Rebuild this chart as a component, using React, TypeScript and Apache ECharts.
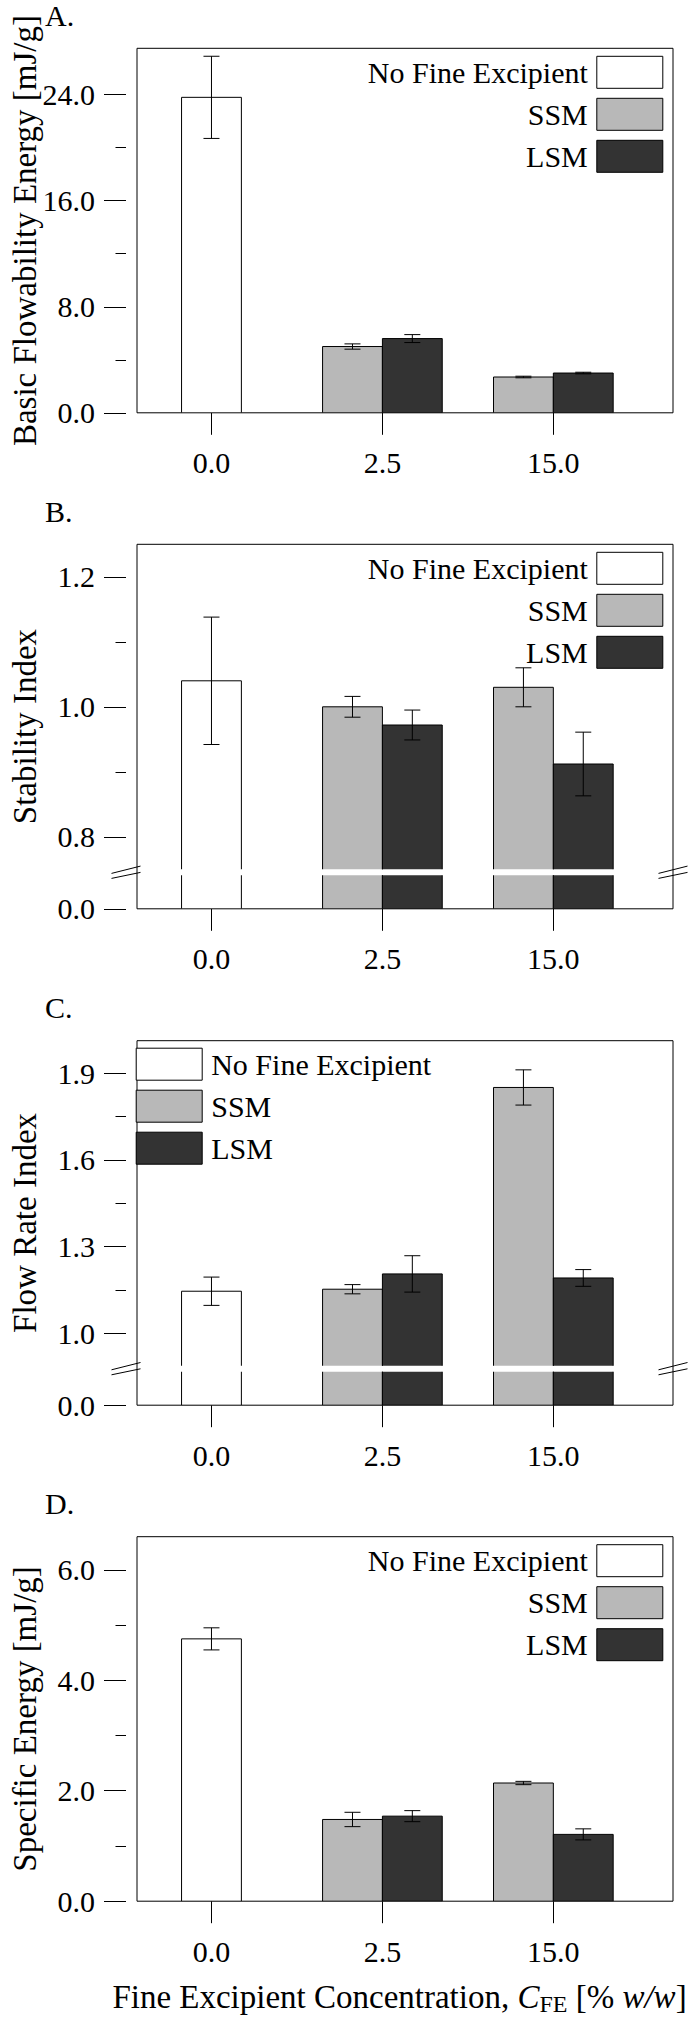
import React, { useEffect, useRef } from 'react';
import * as echarts from 'echarts';

// Fine excipient concentration categories (% w/w)
const categories = ['0.0', '2.5', '15.0'];
const groupNames = ['No Fine Excipient', 'SSM', 'LSM'];
const groupFills = ['#ffffff', '#b8b8b8', '#333333'];

// A. Basic Flowability Energy [mJ/g]
const bfeNoFine = [23.8];
const bfeNoFineErr = [3.1];
const bfeSSM = [5.0, 2.7];
const bfeSSMErr = [0.2, 0.06];
const bfeLSM = [5.6, 3.0];
const bfeLSMErr = [0.3, 0.06];
const bfeTicks = [0, 8, 16, 24];
const bfeMinorTicks = [4, 12, 20];

// B. Stability Index
const siNoFine = [1.04];
const siNoFineErr = [0.098];
const siSSM = [1.0, 1.03];
const siSSMErr = [0.016, 0.03];
const siLSM = [0.972, 0.912];
const siLSMErr = [0.023, 0.049];
const siTicks = [0.8, 1.0, 1.2];
const siMinorTicks = [0.9, 1.1];

// C. Flow Rate Index
const friNoFine = [1.145];
const friNoFineErr = [0.049];
const friSSM = [1.152, 1.851];
const friSSMErr = [0.016, 0.061];
const friLSM = [1.205, 1.191];
const friLSMErr = [0.063, 0.029];
const friTicks = [1.0, 1.3, 1.6, 1.9];
const friMinorTicks = [1.15, 1.45, 1.75];

// D. Specific Energy [mJ/g]
const seNoFine = [4.75];
const seNoFineErr = [0.2];
const seSSM = [1.48, 2.14];
const seSSMErr = [0.13, 0.03];
const seLSM = [1.54, 1.21];
const seLSMErr = [0.1, 0.1];
const seTicks = [0, 2, 4, 6];
const seMinorTicks = [1, 3, 5];

const FONT = '"Liberation Serif", "Times New Roman", Times, serif';

// layout
const PLOT_LEFT = 126;
const PLOT_WIDTH = 547;
const FRAME_H = 364.5;
const UPPER_H = 325;
const GAP_H = 6;
const LOWER_H = FRAME_H - UPPER_H - GAP_H;
const X_MIN = -0.5;
const X_MAX = 2.7;
const BAR_W = 0.35;
const CAP_HALF = 8;
const MAJOR_TICK = 22;
const MINOR_TICK = 10.5;

type Panel = {
  letter: string;
  yName: string;
  top: number;
  min: number;
  max: number;
  ticks: number[];
  minor: number[];
  split: boolean;
  lowerMax: number;
  legendSide: 'left' | 'right';
  values: number[][];
  errors: number[][];
};

const panels: Panel[] = [
  {
    letter: 'A.', yName: 'Basic Flowability Energy [mJ/g]', top: 48.3,
    min: 0, max: 27.5, ticks: bfeTicks, minor: bfeMinorTicks, split: false, lowerMax: 0,
    legendSide: 'right',
    values: [bfeNoFine, bfeSSM, bfeLSM], errors: [bfeNoFineErr, bfeSSMErr, bfeLSMErr],
  },
  {
    letter: 'B.', yName: 'Stability Index', top: 544.3,
    min: 0.75, max: 1.25, ticks: siTicks, minor: siMinorTicks, split: true, lowerMax: 0.05,
    legendSide: 'right',
    values: [siNoFine, siSSM, siLSM], errors: [siNoFineErr, siSSMErr, siLSMErr],
  },
  {
    letter: 'C.', yName: 'Flow Rate Index', top: 1040.7,
    min: 0.887, max: 2.013, ticks: friTicks, minor: friMinorTicks, split: true, lowerMax: 0.05,
    legendSide: 'left',
    values: [friNoFine, friSSM, friLSM], errors: [friNoFineErr, friSSMErr, friLSMErr],
  },
  {
    letter: 'D.', yName: 'Specific Energy [mJ/g]', top: 1536.7,
    min: 0, max: 6.6, ticks: seTicks, minor: seMinorTicks, split: false, lowerMax: 0,
    legendSide: 'right',
    values: [seNoFine, seSSM, seLSM], errors: [seNoFineErr, seSSMErr, seLSMErr],
  },
];

// horizontal offset of each group's bar relative to its category tick
const groupOffsets = [-BAR_W / 2, -BAR_W, 0];
// first category index of each group
const groupStart = [0, 1, 1];

function barRenderer(offset: number, fill: string) {
  return (_params: any, api: any) => {
    const x = api.value(0) as number;
    const v = api.value(1) as number;
    const e = api.value(2) as number;
    const p0 = api.coord([x + offset, v]);
    const p1 = api.coord([x + offset + BAR_W, 0]);
    const cx = (p0[0] + p1[0]) / 2;
    const yHi = api.coord([x, v + e])[1];
    const yLo = api.coord([x, v - e])[1];
    const line = { stroke: '#000', lineWidth: 1 };
    return {
      type: 'group',
      children: [
        {
          type: 'rect',
          shape: { x: p0[0], y: p0[1], width: p1[0] - p0[0], height: p1[1] - p0[1] },
          style: { fill, stroke: '#000', lineWidth: 1 },
        },
        { type: 'line', shape: { x1: cx, y1: yHi, x2: cx, y2: yLo }, style: line },
        { type: 'line', shape: { x1: cx - CAP_HALF, y1: yHi, x2: cx + CAP_HALF, y2: yHi }, style: line },
        { type: 'line', shape: { x1: cx - CAP_HALF, y1: yLo, x2: cx + CAP_HALF, y2: yLo }, style: line },
      ],
    };
  };
}

function buildOption() {
  const grid: any[] = [];
  const xAxis: any[] = [];
  const yAxis: any[] = [];
  const series: any[] = [];
  const legend: any[] = [];
  const graphic: any[] = [];

  const tickLine = { color: '#000', width: 1 };
  const labelStyle = { fontFamily: FONT, fontSize: 30, color: '#000' };

  panels.forEach((p, pi) => {
    // panel frame with the y-axis title
    const fi = grid.length;
    grid.push({
      left: PLOT_LEFT, width: PLOT_WIDTH, top: p.top, height: FRAME_H,
      show: true, borderColor: '#000', borderWidth: 1, backgroundColor: 'transparent',
    });
    xAxis.push({ gridIndex: fi, type: 'value', min: 0, max: 1, show: false });
    yAxis.push({
      gridIndex: fi, type: 'value', min: 0, max: 1, position: 'left',
      axisLine: { show: false, onZero: false }, axisTick: { show: false },
      axisLabel: { show: false }, splitLine: { show: false },
      name: p.yName, nameLocation: 'middle', nameGap: 96,
      nameTextStyle: { fontFamily: FONT, fontSize: 33, color: '#000' },
    });

    const parts = p.split
      ? [
          { top: p.top, height: UPPER_H, min: p.min, max: p.max, ticks: p.ticks, minor: p.minor, bottom: false },
          { top: p.top + UPPER_H + GAP_H, height: LOWER_H, min: 0, max: p.lowerMax, ticks: [0], minor: [] as number[], bottom: true },
        ]
      : [{ top: p.top, height: FRAME_H, min: p.min, max: p.max, ticks: p.ticks, minor: p.minor, bottom: true }];

    parts.forEach((part) => {
      const gi = grid.length;
      grid.push({ left: PLOT_LEFT, width: PLOT_WIDTH, top: part.top, height: part.height, show: false });

      const xi = xAxis.length;
      const isLastPanel = pi === panels.length - 1;
      xAxis.push({
        gridIndex: gi, type: 'value', min: X_MIN, max: X_MAX, position: 'bottom',
        axisLine: { show: false, onZero: false },
        splitLine: { show: false },
        axisTick: {
          show: part.bottom, customValues: [0, 1, 2], length: MAJOR_TICK, inside: false, lineStyle: tickLine,
        },
        axisLabel: {
          show: part.bottom, customValues: [0, 1, 2], margin: 35, ...labelStyle,
          formatter: (v: number) => categories[Math.round(v)],
        },
        ...(part.bottom && isLastPanel
          ? {
              name: '{t|Fine Excipient Concentration, }{i|C}{s|FE}{t| [% }{i|w/w}{t|]}',
              nameLocation: 'middle',
              nameGap: 77,
              nameTextStyle: {
                fontFamily: FONT, fontSize: 33, color: '#000',
                rich: {
                  t: { fontFamily: FONT, fontSize: 33, color: '#000', lineHeight: 38 },
                  i: { fontFamily: FONT, fontSize: 33, color: '#000', fontStyle: 'italic', lineHeight: 38 },
                  s: { fontFamily: FONT, fontSize: 24, color: '#000', lineHeight: 24, verticalAlign: 'bottom' },
                },
              },
            }
          : {}),
      });

      const yi = yAxis.length;
      yAxis.push({
        gridIndex: gi, type: 'value', min: part.min, max: part.max, position: 'left',
        axisLine: { show: false, onZero: false }, splitLine: { show: false },
        axisTick: { show: true, customValues: part.ticks, length: MAJOR_TICK, inside: false, lineStyle: tickLine },
        axisLabel: {
          show: true, customValues: part.ticks, margin: 31, ...labelStyle,
          formatter: (v: number) => v.toFixed(1),
        },
      });
      if (part.minor.length) {
        yAxis.push({
          gridIndex: gi, type: 'value', min: part.min, max: part.max, position: 'left',
          axisLine: { show: false, onZero: false }, splitLine: { show: false },
          axisTick: { show: true, customValues: part.minor, length: MINOR_TICK, inside: false, lineStyle: tickLine },
          axisLabel: { show: false },
        });
      }

      groupNames.forEach((name, k) => {
        const vals = p.values[k];
        const errs = p.errors[k];
        series.push({
          type: 'custom',
          name,
          xAxisIndex: xi,
          yAxisIndex: yi,
          clip: true,
          encode: { x: 0, y: 1 },
          itemStyle: { color: groupFills[k], borderColor: '#000', borderWidth: 1 },
          renderItem: barRenderer(groupOffsets[k], groupFills[k]),
          data: vals.map((v, i) => [groupStart[k] + i, v, errs[i]]),
        });
      });
    });

    // legend
    const legendCommon = {
      orient: 'vertical',
      icon: 'rect',
      itemWidth: 66,
      itemHeight: 32,
      itemGap: 9,
      selectedMode: false,
      data: groupNames.map((name, k) => ({
        name,
        itemStyle: { color: groupFills[k], borderColor: '#000', borderWidth: 1 },
      })),
    };
    if (p.legendSide === 'right') {
      legend.push({
        ...legendCommon,
        right: 20.7, top: p.top + 2.5, align: 'right',
        textStyle: { ...labelStyle, lineHeight: 32, padding: [0, 4, 0, 0] },
      });
    } else {
      legend.push({
        ...legendCommon,
        left: 130.7, top: p.top + 2, align: 'left',
        textStyle: { ...labelStyle, lineHeight: 32, padding: [0, 0, 0, 4] },
      });
    }

    // panel letter
    graphic.push({
      type: 'text', x: 45, y: p.top - 33,
      style: { text: p.letter, fontFamily: FONT, fontSize: 30, fill: '#000', align: 'left', verticalAlign: 'middle' },
    });

    // axis-break marks on both frame edges
    if (p.split) {
      const yc = p.top + UPPER_H + GAP_H / 2;
      [PLOT_LEFT, PLOT_LEFT + PLOT_WIDTH].forEach((ex) => {
        [[1.1, -6.2], [6.1, 0.1]].forEach(([d1, d2]) => {
          graphic.push({
            type: 'line',
            shape: { x1: ex - 14.5, y1: yc + d1, x2: ex + 14.5, y2: yc + d2 },
            style: { stroke: '#000', lineWidth: 1 },
            z: 10,
          });
        });
      });
    }
  });

  return {
    animation: false,
    backgroundColor: '#ffffff',
    textStyle: { fontFamily: FONT },
    grid,
    xAxis,
    yAxis,
    legend,
    series,
    graphic,
  };
}

export default function App() {
  const ref = useRef<HTMLDivElement>(null);
  useEffect(() => {
    if (!ref.current) return;
    const chart = echarts.init(ref.current, null, { renderer: 'svg' });
    chart.setOption(buildOption() as any);
    return () => chart.dispose();
  }, []);
  return (
    <div
      ref={ref}
      style={{ position: 'absolute', left: 0, top: 0, width: 689, height: 2023, background: '#fff' }}
    />
  );
}
